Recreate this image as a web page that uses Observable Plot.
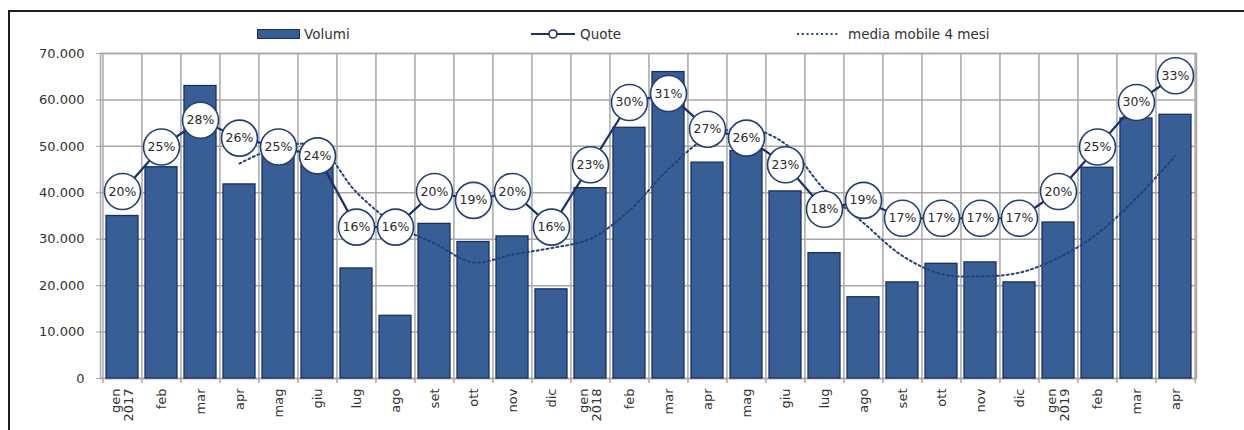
<!DOCTYPE html>
<html>
<head>
<meta charset="utf-8">
<script src="https://cdn.jsdelivr.net/npm/d3@7"></script>
<script src="https://cdn.jsdelivr.net/npm/@observablehq/plot@0.6"></script>
<style>
  body { margin: 0; background: #fff; font-family: "DejaVu Sans", sans-serif; }
  #wrap { position: relative; width: 1244px; height: 430px; overflow: hidden; }
  #wrap svg.chart { position: absolute; left: 0; top: 0; }
  #border { position: absolute; left: 8px; top: 10px; right: -6px; bottom: -6px;
            border-top: 2px solid #1e1e1e; border-left: 2px solid #1e1e1e; }
  .lg { position: absolute; top: 26px; font-size: 13.5px; line-height: 16px; color: #333; white-space: nowrap; }
  .lg-sym { position: absolute; top: 28px; }
</style>
</head>
<body>
<div id="wrap">
  <div id="border"></div>
  <div class="lg-sym" style="left:257px;top:29px;width:41px;height:8px;background:#375e95;border:1px solid #1a2d6a;"></div>
  <div class="lg" style="left:304px;">Volumi</div>
  <svg class="lg-sym" style="left:530px;" width="46" height="12">
    <line x1="1" y1="6" x2="45" y2="6" stroke="#1c2f6e" stroke-width="2.2"/>
    <circle cx="23" cy="6" r="4" fill="#fff" stroke="#1c2f6e" stroke-width="1.6"/>
  </svg>
  <div class="lg" style="left:580px;">Quote</div>
  <svg class="lg-sym" style="left:796px;" width="46" height="12">
    <line x1="1" y1="6" x2="44" y2="6" stroke="#24427c" stroke-width="2" stroke-dasharray="2,2.8"/>
  </svg>
  <div class="lg" style="left:848px;">media mobile 4 mesi</div>
</div>
<script>
// Months from January 2017 to April 2019
const periods = [
  "2017-01","2017-02","2017-03","2017-04","2017-05","2017-06","2017-07","2017-08","2017-09","2017-10","2017-11","2017-12",
  "2018-01","2018-02","2018-03","2018-04","2018-05","2018-06","2018-07","2018-08","2018-09","2018-10","2018-11","2018-12",
  "2019-01","2019-02","2019-03","2019-04"
];
const monthLabels = [
  "gen\n2017","feb","mar","apr","mag","giu","lug","ago","set","ott","nov","dic",
  "gen\n2018","feb","mar","apr","mag","giu","lug","ago","set","ott","nov","dic",
  "gen\n2019","feb","mar","apr"
];
// Volumi (bars)
const volumi = [
  35000, 45500, 63000, 41800, 49000, 46000, 23700, 13500, 33300, 29400, 30600, 19200,
  41000, 54000, 66000, 46500, 49000, 40300, 27000, 17500, 20700, 24700, 25000, 20700,
  33600, 45400, 56000, 56800
];
// Quote (%)
const quote = [
  20, 25, 28, 26, 25, 24, 16, 16, 20, 19, 20, 16,
  23, 30, 31, 27, 26, 23, 18, 19, 17, 17, 17, 17,
  20, 25, 30, 33
];
// Media mobile 4 mesi
const mediaMobile = [
  null, null, null, 46300, 49800, 50000, 40100, 33100, 29100, 25000, 26700, 28100,
  30100, 36200, 45100, 51900, 53900, 50500, 40700, 33500, 26400, 22500, 22000, 22800,
  26000, 31200, 38900, 48000
];
const yTicks = [0, 10000, 20000, 30000, 40000, 50000, 60000, 70000];

// Secondary (hidden) axis for the Quote series, mapped onto the volume axis
const quoteDomain = [-1, 35.5];
const volDomain = [0, 70000];
const quoteToY = d3.scaleLinear().domain(quoteDomain).range(volDomain);

const data = periods.map((p, i) => ({
  period: p, label: monthLabels[i], volume: volumi[i], quote: quote[i], ma: mediaMobile[i]
}));
const labelOf = new Map(data.map(d => [d.period, d.label]));

const W = 1244, H = 430, mL = 100, mR = 48, mT = 53, mB = 52;
const step = (W - mL - mR) / periods.length;

const itFormat = d3.formatLocale({decimal: ",", thousands: ".", grouping: [3], currency: ["€", ""]}).format(",");

const gridColor = "#a8a8a8";
const navy = "#1c2f6e";

const chart = Plot.plot({
  width: W, height: H,
  marginLeft: mL, marginRight: mR, marginTop: mT, marginBottom: mB,
  style: {fontFamily: "DejaVu Sans, sans-serif", fontSize: "13px", color: "#333", background: "transparent", overflow: "visible"},
  x: {type: "band", domain: periods, paddingInner: 0.18, paddingOuter: 0.09, axis: null, label: null},
  y: {domain: volDomain, axis: null, label: null},
  marks: [
    Plot.ruleY(yTicks, {stroke: gridColor, strokeWidth: 1.5}),
    Plot.ruleX(periods, {x: d => d, dx: -step / 2, stroke: gridColor, strokeWidth: 1.5, insetBottom: -5}),
    Plot.ruleX(periods.slice(-1), {x: d => d, dx: step / 2, stroke: gridColor, strokeWidth: 1.5, insetBottom: -5}),
    Plot.frame({stroke: gridColor, strokeWidth: 1.5}),
    Plot.axisY({ticks: yTicks, tickSize: 4, tickPadding: 12, stroke: gridColor, fill: "#333", fontSize: 13,
                label: null, tickFormat: d => itFormat(d)}),
    Plot.axisX({tickSize: 0, tickPadding: 10, tickRotate: -90, textAnchor: "end", lineAnchor: "middle",
                fontSize: 13, fill: "#333", label: null, tickFormat: d => labelOf.get(d)}),
    Plot.barY(data, {x: "period", y: "volume", fill: "#375e95", stroke: "#1a2d6a", strokeWidth: 1.3}),
    Plot.line(data.filter(d => d.ma != null), {x: "period", y: "ma", curve: "catmull-rom",
                stroke: "#24427c", strokeWidth: 2, strokeDasharray: "2,3"}),
    Plot.line(data, {x: "period", y: d => quoteToY(d.quote), stroke: navy, strokeWidth: 2.2}),
    Plot.dot(data, {x: "period", y: d => quoteToY(d.quote), r: 18, fill: "#fff", stroke: "#234076", strokeWidth: 1.6}),
    Plot.text(data, {x: "period", y: d => quoteToY(d.quote), text: d => d.quote + "%", fill: "#2a2a2a",
                fontSize: 12.5})
  ]
});
chart.classList.add("chart");
document.getElementById("wrap").insertBefore(chart, document.getElementById("border"));
</script>
</body>
</html>
